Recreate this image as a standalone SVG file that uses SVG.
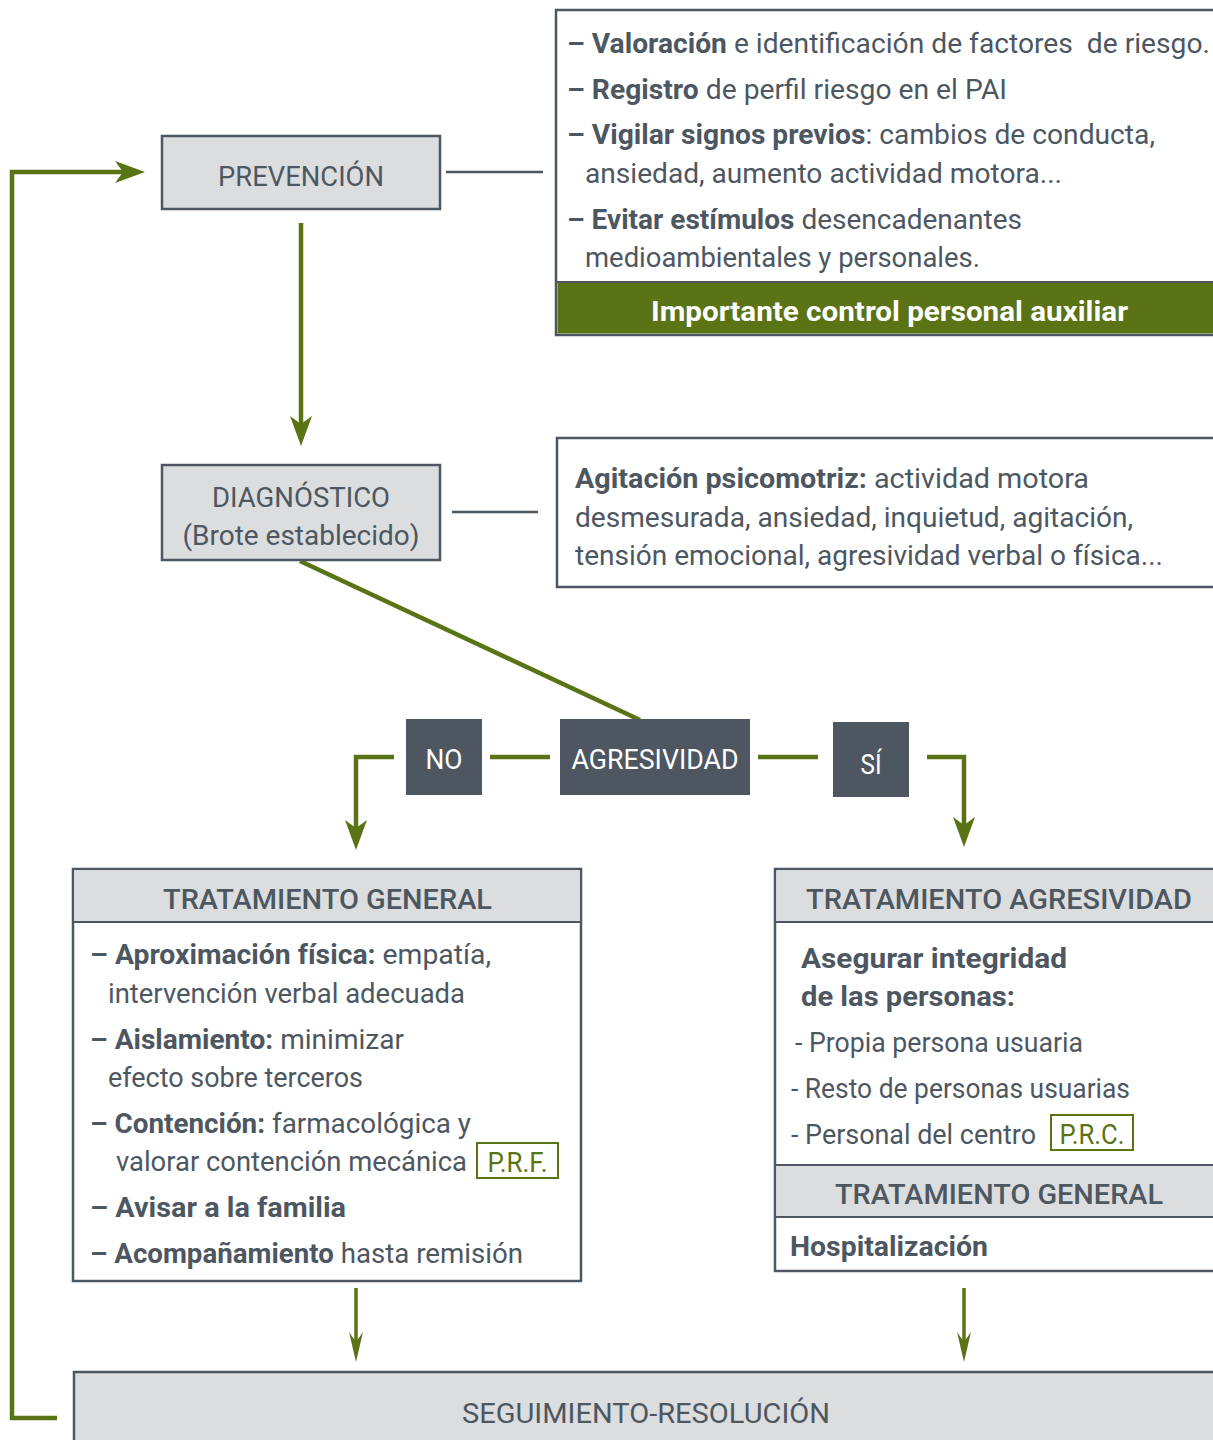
<svg xmlns="http://www.w3.org/2000/svg" width="1213" height="1440" viewBox="0 0 1213 1440">
  <style>
    .t { font-family: Roboto, "Open Sans", "Liberation Sans", sans-serif; font-size: 28px; fill: #4d5761; white-space: pre; }
    .b { font-weight: 700; }
    .m { font-weight: 500; }
    .w { fill: #ffffff; }
    .gt { fill: #5a7314; }
    .box { fill: #ffffff; stroke: #4e5761; stroke-width: 2.5; }
    .gray { fill: #dcdddf; stroke: #4e5761; stroke-width: 2.5; }
    .dark { fill: #4e5761; }
    .rule { stroke: #4e5761; stroke-width: 2; fill: none; }
    .tag { fill: none; stroke: #5a7314; stroke-width: 2; }
    .flow { stroke: #5a7314; stroke-width: 4.5; fill: none; }
    .flowThin { stroke: #5a7314; stroke-width: 3.5; fill: none; }
    .link { stroke: #4e5761; stroke-width: 2.5; fill: none; }
  </style>
  <defs>
    <marker id="arrow" markerUnits="userSpaceOnUse" viewBox="0 0 30 22" refX="8" refY="11" markerWidth="30" markerHeight="22" orient="auto">
      <path d="M0,0 L30,11 L0,22 L8,11 Z" fill="#5a7314"/>
    </marker>
    <marker id="arrowNarrow" markerUnits="userSpaceOnUse" viewBox="0 0 30 14" refX="10" refY="7" markerWidth="30" markerHeight="14" orient="auto">
      <path d="M0,0 L30,7 L0,14 L10,7 Z" fill="#5a7314"/>
    </marker>
  </defs>

  <!-- connectors -->
  <g id="connectors">
    <line class="link" x1="446" y1="172" x2="543" y2="172"/>
    <line class="link" x1="452" y1="512" x2="538" y2="512"/>
    <polyline class="flow" points="57,1418 12,1418 12,172 123,172" marker-end="url(#arrow)"/>
    <line class="flow" x1="301" y1="223" x2="301" y2="424" marker-end="url(#arrow)"/>
    <line class="flow" x1="300" y1="561" x2="640" y2="720"/>
    <line class="flow" x1="490" y1="757" x2="550" y2="757"/>
    <line class="flow" x1="758" y1="757" x2="818" y2="757"/>
    <polyline class="flow" points="394,757 356,757 356,828" marker-end="url(#arrow)"/>
    <polyline class="flow" points="927,757 964,757 964,825" marker-end="url(#arrow)"/>
    <line class="flowThin" x1="356" y1="1288" x2="356" y2="1342" marker-end="url(#arrowNarrow)"/>
    <line class="flowThin" x1="964" y1="1288" x2="964" y2="1342" marker-end="url(#arrowNarrow)"/>
  </g>

  <!-- prevention details -->
  <g id="prevencion-detalle">
    <rect class="box" x="556" y="10" width="680" height="325"/>
    <rect x="557.5" y="282" width="680" height="51.5" fill="#5a7314"/>
    <line class="rule" x1="556" y1="282" x2="1213" y2="282"/>
    <text class="t" x="567" y="53" textLength="643" lengthAdjust="spacingAndGlyphs"><tspan class="b">– Valoración</tspan> e identificación de factores  de riesgo.</text>
    <text class="t" x="567" y="99" textLength="440" lengthAdjust="spacingAndGlyphs"><tspan class="b">– Registro</tspan> de perfil riesgo en el PAI</text>
    <text class="t" x="567" y="144" textLength="588" lengthAdjust="spacingAndGlyphs"><tspan class="b">– Vigilar signos previos</tspan>: cambios de conducta,</text>
    <text class="t" x="585" y="183" textLength="477" lengthAdjust="spacingAndGlyphs">ansiedad, aumento actividad motora...</text>
    <text class="t" x="567" y="229" textLength="455" lengthAdjust="spacingAndGlyphs"><tspan class="b">– Evitar estímulos</tspan> desencadenantes</text>
    <text class="t" x="585" y="267" textLength="395" lengthAdjust="spacingAndGlyphs">medioambientales y personales.</text>
    <text class="t b w" x="889.5" y="321" text-anchor="middle" textLength="477" lengthAdjust="spacingAndGlyphs">Importante control personal auxiliar</text>
  </g>

  <!-- prevention -->
  <g id="prevencion">
    <rect class="gray" x="162" y="136" width="278" height="73"/>
    <text class="t" x="301" y="186" text-anchor="middle" textLength="166" lengthAdjust="spacingAndGlyphs">PREVENCIÓN</text>
  </g>

  <!-- diagnosis -->
  <g id="diagnostico">
    <rect class="gray" x="162" y="465" width="278" height="95"/>
    <text class="t" x="301" y="507" text-anchor="middle" textLength="178" lengthAdjust="spacingAndGlyphs">DIAGNÓSTICO</text>
    <text class="t" x="301" y="545" text-anchor="middle" textLength="237" lengthAdjust="spacingAndGlyphs">(Brote establecido)</text>
  </g>

  <!-- diagnosis details -->
  <g id="diagnostico-detalle">
    <rect class="box" x="557" y="438" width="680" height="149"/>
    <text class="t" x="575" y="488" textLength="514" lengthAdjust="spacingAndGlyphs"><tspan class="b">Agitación psicomotriz:</tspan> actividad motora</text>
    <text class="t" x="575" y="527" textLength="558" lengthAdjust="spacingAndGlyphs">desmesurada, ansiedad, inquietud, agitación,</text>
    <text class="t" x="575" y="565" textLength="588" lengthAdjust="spacingAndGlyphs">tensión emocional, agresividad verbal o física...</text>
  </g>

  <!-- decision -->
  <g id="agresividad">
    <rect class="dark" x="560" y="719" width="190" height="76"/>
    <text class="t w" x="655" y="769" text-anchor="middle" textLength="167" lengthAdjust="spacingAndGlyphs">AGRESIVIDAD</text>
  </g>
  <g id="no">
    <rect class="dark" x="406" y="719" width="76" height="76"/>
    <text class="t w" x="444" y="769" text-anchor="middle" textLength="37" lengthAdjust="spacingAndGlyphs">NO</text>
  </g>
  <g id="si">
    <rect class="dark" x="833" y="722" width="76" height="75"/>
    <text class="t w" x="871" y="774" text-anchor="middle" textLength="21" lengthAdjust="spacingAndGlyphs">SÍ</text>
  </g>

  <!-- general treatment -->
  <g id="tratamiento-general">
    <rect class="box" x="73" y="869" width="508" height="412"/>
    <rect x="74.5" y="870.5" width="505" height="51.5" fill="#dcdddf"/>
    <line class="rule" x1="73" y1="922" x2="581" y2="922"/>
    <text class="t m" x="327.5" y="909" text-anchor="middle" textLength="329" lengthAdjust="spacingAndGlyphs">TRATAMIENTO GENERAL</text>
    <text class="t" x="90" y="964" textLength="401" lengthAdjust="spacingAndGlyphs"><tspan class="b">– Aproximación física:</tspan> empatía,</text>
    <text class="t" x="108" y="1003" textLength="357" lengthAdjust="spacingAndGlyphs">intervención verbal adecuada</text>
    <text class="t" x="90" y="1049" textLength="314" lengthAdjust="spacingAndGlyphs"><tspan class="b">– Aislamiento:</tspan> minimizar</text>
    <text class="t" x="108" y="1087" textLength="255" lengthAdjust="spacingAndGlyphs">efecto sobre terceros</text>
    <text class="t" x="90" y="1133" textLength="381" lengthAdjust="spacingAndGlyphs"><tspan class="b">– Contención:</tspan> farmacológica y</text>
    <text class="t" x="116" y="1171" textLength="351" lengthAdjust="spacingAndGlyphs">valorar contención mecánica</text>
    <rect class="tag" x="477" y="1143" width="81" height="35"/>
    <text class="t gt" x="517.5" y="1172" text-anchor="middle" textLength="60" lengthAdjust="spacingAndGlyphs">P.R.F.</text>
    <text class="t b" x="90" y="1217" textLength="256" lengthAdjust="spacingAndGlyphs">– Avisar a la familia</text>
    <text class="t" x="90" y="1263" textLength="433" lengthAdjust="spacingAndGlyphs"><tspan class="b">– Acompañamiento</tspan> hasta remisión</text>
  </g>

  <!-- aggression treatment -->
  <g id="tratamiento-agresividad">
    <rect class="box" x="775" y="869" width="460" height="402"/>
    <rect x="776.5" y="870.5" width="458" height="51.5" fill="#dcdddf"/>
    <line class="rule" x1="775" y1="922" x2="1213" y2="922"/>
    <text class="t m" x="999" y="909" text-anchor="middle" textLength="386" lengthAdjust="spacingAndGlyphs">TRATAMIENTO AGRESIVIDAD</text>
    <text class="t b" x="801" y="968" textLength="266" lengthAdjust="spacingAndGlyphs">Asegurar integridad</text>
    <text class="t b" x="801" y="1006" textLength="214" lengthAdjust="spacingAndGlyphs">de las personas:</text>
    <text class="t" x="795" y="1052" textLength="288" lengthAdjust="spacingAndGlyphs">- Propia persona usuaria</text>
    <text class="t" x="791" y="1098" textLength="339" lengthAdjust="spacingAndGlyphs">- Resto de personas usuarias</text>
    <text class="t" x="791" y="1144" textLength="245" lengthAdjust="spacingAndGlyphs">- Personal del centro</text>
    <rect class="tag" x="1051" y="1115" width="82" height="35"/>
    <text class="t gt" x="1092" y="1144" text-anchor="middle" textLength="65" lengthAdjust="spacingAndGlyphs">P.R.C.</text>
    <rect x="776.5" y="1165" width="458" height="52" fill="#dcdddf"/>
    <line class="rule" x1="775" y1="1165" x2="1213" y2="1165"/>
    <line class="rule" x1="775" y1="1217" x2="1213" y2="1217"/>
    <text class="t m" x="999" y="1204" text-anchor="middle" textLength="328" lengthAdjust="spacingAndGlyphs">TRATAMIENTO GENERAL</text>
    <text class="t b" x="790" y="1256" textLength="198" lengthAdjust="spacingAndGlyphs">Hospitalización</text>
  </g>

  <!-- follow-up -->
  <g id="seguimiento">
    <rect class="gray" x="74" y="1372" width="1160" height="90"/>
    <text class="t" x="646" y="1423" text-anchor="middle" textLength="368" lengthAdjust="spacingAndGlyphs">SEGUIMIENTO-RESOLUCIÓN</text>
  </g>
</svg>
